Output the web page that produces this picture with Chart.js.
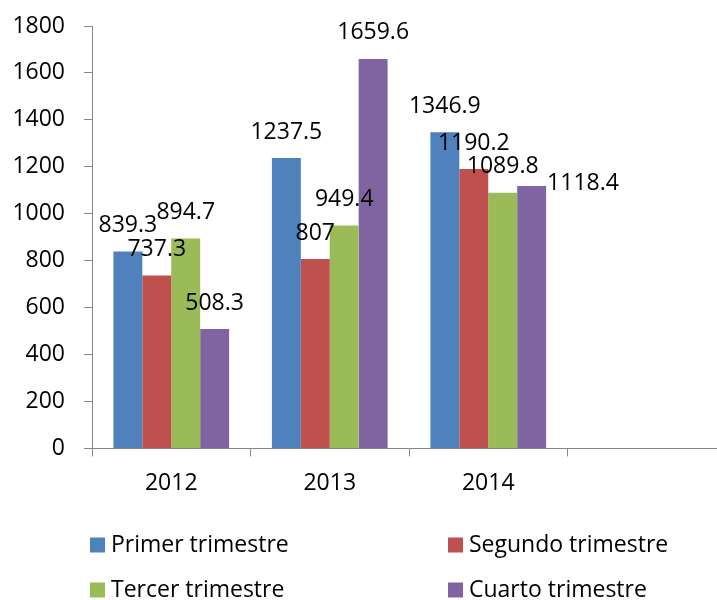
<!DOCTYPE html>
<html>
<head>
<meta charset="utf-8">
<script src="https://cdn.jsdelivr.net/npm/chart.js@4"></script>
<style>
  html, body { margin: 0; padding: 0; background: #fff; overflow: hidden; }
  #wrap { width: 726px; height: 600px; }
</style>
</head>
<body>
<div id="wrap"><canvas id="chart" width="726" height="600"></canvas></div>
<script>
const years = ['2012', '2013', '2014', ''];
const seriesNames = ['Primer trimestre', 'Segundo trimestre', 'Tercer trimestre', 'Cuarto trimestre'];
const primer = [839.3, 1237.5, 1346.9, null];
const segundo = [737.3, 807, 1190.2, null];
const tercer = [894.7, 949.4, 1089.8, null];
const cuarto = [508.3, 1659.6, 1118.4, null];
const yTicks = [0, 200, 400, 600, 800, 1000, 1200, 1400, 1600, 1800];

const colors = ['#4f81bd', '#c0504d', '#9bbb59', '#8064a2'];
const axisColor = '#868686';
const font = "'Open Sans', sans-serif";
const fontSize = 23;

// labels that sit to the right of the bar instead of above it: [dataset, index]
const sideLabels = [[3, 2]];

const valueLabels = {
  id: 'valueLabels',
  afterDatasetsDraw(chart) {
    const ctx = chart.ctx;
    ctx.save();
    ctx.font = fontSize + 'px ' + font;
    ctx.fillStyle = '#000';
    ctx.textBaseline = 'middle';
    chart.data.datasets.forEach((ds, di) => {
      chart.getDatasetMeta(di).data.forEach((bar, i) => {
        const v = ds.data[i];
        if (v == null) return;
        const side = sideLabels.some(s => s[0] === di && s[1] === i);
        if (side) {
          ctx.textAlign = 'left';
          ctx.fillText(String(v), bar.x + bar.width / 2 + 1, bar.y - 2);
        } else {
          ctx.textAlign = 'center';
          ctx.fillText(String(v), bar.x, bar.y - 26);
        }
      });
    });
    ctx.restore();
  }
};

const gridLegend = {
  id: 'gridLegend',
  afterDraw(chart) {
    const ctx = chart.ctx;
    const cols = [90, 448];
    const rows = [545, 590];
    ctx.save();
    ctx.font = fontSize + 'px ' + font;
    ctx.textBaseline = 'middle';
    ctx.textAlign = 'left';
    chart.data.datasets.forEach((ds, i) => {
      const x = cols[i % 2];
      const y = rows[Math.floor(i / 2)];
      ctx.fillStyle = ds.backgroundColor;
      ctx.fillRect(x, y - 7.5, 15, 15);
      ctx.fillStyle = '#000';
      ctx.fillText(ds.label, x + 21, y);
    });
    ctx.restore();
  }
};

new Chart(document.getElementById('chart'), {
  type: 'bar',
  data: {
    labels: years,
    datasets: [primer, segundo, tercer, cuarto].map((d, i) => ({
      label: seriesNames[i],
      data: d,
      backgroundColor: colors[i],
      borderWidth: 0,
      categoryPercentage: 0.73,
      barPercentage: 1
    }))
  },
  options: {
    responsive: false,
    animation: false,
    devicePixelRatio: 1,
    layout: { padding: { top: 26, left: 14, right: 0, bottom: 90 } },
    plugins: {
      legend: { display: false },
      tooltip: { enabled: false }
    },
    scales: {
      x: {
        grid: { display: true, drawOnChartArea: false, drawTicks: true, tickLength: 8, color: axisColor, offset: true },
        border: { display: true, color: axisColor, width: 1 },
        ticks: { color: '#000', font: { family: font, size: fontSize }, padding: 13, maxRotation: 0 }
      },
      y: {
        min: 0,
        max: yTicks[yTicks.length - 1],
        afterBuildTicks(axis) { axis.ticks = yTicks.map(v => ({ value: v })); },
        afterFit(axis) {
          axis.width = 78;
          axis.paddingTop = 0;
          axis.paddingBottom = 0;
        },
        grid: { display: true, drawOnChartArea: false, drawTicks: true, tickLength: 8, color: axisColor },
        border: { display: true, color: axisColor, width: 1 },
        ticks: { color: '#000', font: { family: font, size: fontSize }, padding: 19, callback: v => String(v) }
      }
    }
  },
  plugins: [valueLabels, gridLegend]
});
</script>
</body>
</html>
